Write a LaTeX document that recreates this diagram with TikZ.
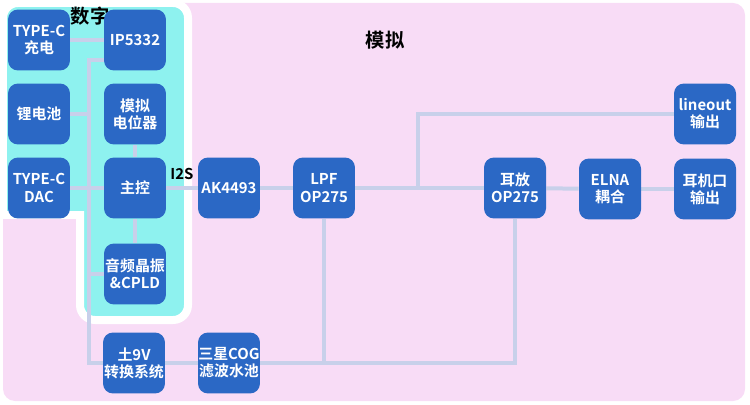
\documentclass[tikz,border=0pt]{standalone}
\usepackage{fontspec}
\newfontfamily\cjk{Noto Sans CJK SC}[BoldFont={Noto Sans CJK SC Bold}]
\usetikzlibrary{calc}
\definecolor{pinkbg}{HTML}{F8DCF6}
\definecolor{cyanbg}{HTML}{8EF2EF}
\definecolor{blockblue}{HTML}{2B68C5}
\definecolor{wirecol}{HTML}{C8D0EA}
\pgfdeclarelayer{back}
\pgfdeclarelayer{wires}
\pgfsetlayers{back,wires,main}

\begin{document}
\begin{tikzpicture}[
    x=0.02cm, y=-0.02cm,
    font=\cjk\bfseries,
    block/.style={
        fill=blockblue, rounded corners=0.2cm,
        minimum width=1.24cm, minimum height=1.22cm, inner sep=0pt,
        align=center, text=white,
        font=\cjk\bfseries\fontsize{8.5}{9.8}\selectfont
    },
    wire/.style={
        draw=wirecol, line width=0.08cm
    },
    region/.style={
        font=\cjk\bfseries\fontsize{11}{12}\selectfont, text=black
    }
]
\useasboundingbox (0,0) rectangle (750,405);

% backgrounds
\begin{pgfonlayer}{back}
\fill[pinkbg, rounded corners=0.24cm] (3,3) rectangle (745,401);
\filldraw[fill=cyanbg, draw=white, line width=0.16cm]
    [rounded corners=0.3cm] (3,215) -- (3,3) -- (188,3) -- (188,320) -- (80,320)
    [sharp corners] -- (80,215) -- cycle;
\end{pgfonlayer}

\node[region] (digital) at (90,16) {数字};
\node[region] (analog) at (385,40) {模拟};

% digital part
\node[block] (chg) at (39,40)  {TYPE-C\\充电};
\node[block] (ip)  at (135,40) {IP5332};
\node[block] (bat) at (39,114) {锂电池};
\node[block] (pot) at (135,114) {模拟\\电位器};
\node[block] (usb) at (39,188) {TYPE-C\\DAC};
\node[block] (mcu) at (135,188) {主控};
\node[block] (osc) at (135,274) {音频晶振\\\&CPLD};

% analog part
\node[block] (psu) at (134,363) {土9V\\转换系统};
\node[block] (cog) at (229,363) {三星COG\\滤波水池};
\node[block] (ak)  at (229,188) {AK4493};
\node[block] (lpf) at (324,188) {LPF\\OP275};
\node[block] (hpa) at (515,188) {耳放\\OP275};
\node[block] (elna) at (610,189) {ELNA\\耦合};
\node[block] (jack) at (705,189) {耳机口\\输出};
\node[block] (lo)  at (705,114) {lineout\\输出};

\coordinate (bus) at (89,60);
\coordinate (split) at (418,188);

\begin{pgfonlayer}{wires}
\draw[wire] (chg.east) -- (ip.west);
\draw[wire] (ip.west |- bus) -- (bus) |- (psu.west);
\draw[wire] (bat.east) -- (bat.east -| bus);
\draw[wire] (osc.west) -- (osc.west -| bus);
\draw[wire] (usb.east) -- (mcu.west);
\draw[wire] (pot) -- (mcu);
\draw[wire] (mcu) -- (osc);
\draw[wire] (mcu.east) -- node[above=0pt, text=black, font=\cjk\bfseries\fontsize{8.5}{10}\selectfont] (i2s) {I2S} (ak.west);
\draw[wire] (ak) -- (lpf);
\draw[wire] (lpf) -- (hpa);
\draw[wire] (hpa) -- (elna);
\draw[wire] (elna) -- (jack);
\draw[wire] (split) |- (lo.west);
\draw[wire] (psu) -- (cog);
\draw[wire] (cog.east) -| (hpa.south);
\draw[wire] (lpf.south) -- (lpf.south |- cog.east);
\end{pgfonlayer}
\end{tikzpicture}
\end{document}
